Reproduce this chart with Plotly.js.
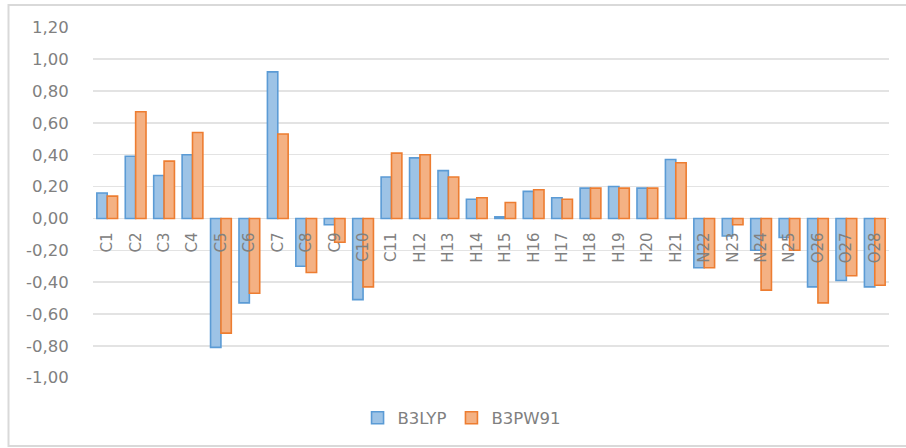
<!DOCTYPE html>
<html>
<head>
<meta charset="utf-8">
<script src="https://cdn.plot.ly/plotly-3.0.1.min.js"></script>
<style>html,body{margin:0;padding:0;background:#fff;}#chart{width:906px;height:448px;}</style>
</head>
<body>
<div id="chart"></div>
<script>
var atoms = ["C1","C2","C3","C4","C5","C6","C7","C8","C9","C10","C11","H12","H13","H14","H15","H16","H17","H18","H19","H20","H21","N22","N23","N24","N25","O26","O27","O28"];
var b3lyp = [0.16,0.39,0.27,0.40,-0.81,-0.53,0.92,-0.30,-0.04,-0.51,0.26,0.38,0.30,0.12,0.01,0.17,0.13,0.19,0.20,0.19,0.37,-0.31,-0.11,-0.20,-0.12,-0.43,-0.39,-0.43];
var b3pw91 = [0.14,0.67,0.36,0.54,-0.72,-0.47,0.53,-0.34,-0.15,-0.43,0.41,0.40,0.26,0.13,0.10,0.18,0.12,0.19,0.19,0.19,0.35,-0.31,-0.04,-0.45,-0.20,-0.53,-0.36,-0.42];
var yTicks = [1.2,1.0,0.8,0.6,0.4,0.2,0,-0.2,-0.4,-0.6,-0.8,-1.0];
var yTickText = ["1,20","1,00","0,80","0,60","0,40","0,20","0,00","-0,20","-0,40","-0,60","-0,80","-1,00"];

var yMin = -1.0, yMax = 1.2;
var traces = [
  {type:'bar', name:'B3LYP', x:atoms, y:b3lyp,
   marker:{color:'#9DC3E6', line:{color:'#5B9BD5', width:1.6}}},
  {type:'bar', name:'B3PW91', x:atoms, y:b3pw91,
   marker:{color:'#F4B183', line:{color:'#ED7D31', width:1.6}}}
];
var layout = {
  width:906, height:448,
  margin:{l:93, r:17, t:27, b:70},
  paper_bgcolor:'#fff', plot_bgcolor:'#fff',
  barmode:'group', bargap:0.27, bargroupgap:0,
  font:{family:'DejaVu Sans', color:'#808080'},
  xaxis:{anchor:'free', position:(0-yMin)/(yMax-yMin), showgrid:false, showline:false, zeroline:false,
         tickangle:-90, tickfont:{size:15, color:'#808080'}, ticks:'outside', ticklen:7, tickcolor:'rgba(0,0,0,0)',
         fixedrange:true},
  yaxis:{range:[yMin-0.002, yMax+0.002], tickvals:yTicks, ticktext:yTickText, showgrid:true, gridcolor:'#e3e3e3', gridwidth:1.5,
         zeroline:false, showline:false, tickfont:{size:16.5, color:'#808080'}, ticks:'outside', ticklen:20, tickcolor:'rgba(0,0,0,0)'},
  showlegend:true,
  legend:{orientation:'h', x:0.463, xanchor:'center', y:-0.114, yanchor:'middle', font:{size:16.5, color:'#808080'}, itemwidth:30, traceorder:'normal'},
  shapes:[
    {type:'rect', xref:'paper', yref:'paper', x0:(8.5-93)/796, x1:1.05, y0:(378-446)/351, y1:(378-5)/351,
     line:{color:'#d9d9d9', width:2}, fillcolor:'rgba(0,0,0,0)', layer:'below'}
  ]
};
Plotly.newPlot('chart', traces, layout, {displayModeBar:false, staticPlot:true});
</script>
</body>
</html>
